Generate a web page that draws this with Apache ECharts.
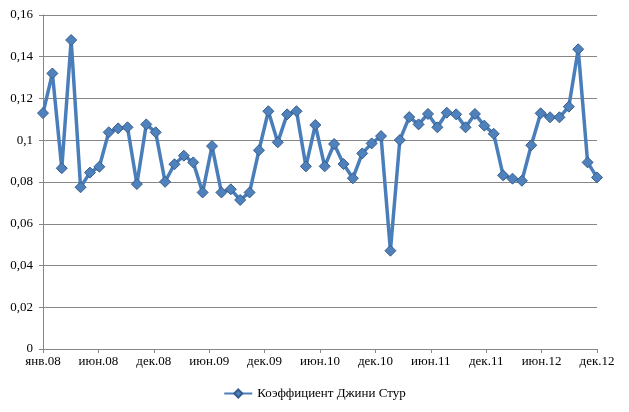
<!DOCTYPE html>
<html>
<head>
<meta charset="utf-8">
<script src="https://cdn.jsdelivr.net/npm/echarts@6/dist/echarts.min.js"></script>
<style>
  html, body { margin: 0; padding: 0; background: #fff; }
  #chart { width: 629px; height: 412px; }
</style>
</head>
<body>
<div id="chart"></div>
<script>
// месяцы янв.08 .. дек.12 (60 точек)
var months = [
  'янв.08','фев.08','мар.08','апр.08','май.08','июн.08','июл.08','авг.08','сен.08','окт.08','ноя.08','дек.08',
  'янв.09','фев.09','мар.09','апр.09','май.09','июн.09','июл.09','авг.09','сен.09','окт.09','ноя.09','дек.09',
  'янв.10','фев.10','мар.10','апр.10','май.10','июн.10','июл.10','авг.10','сен.10','окт.10','ноя.10','дек.10',
  'янв.11','фев.11','мар.11','апр.11','май.11','июн.11','июл.11','авг.11','сен.11','окт.11','ноя.11','дек.11',
  'янв.12','фев.12','мар.12','апр.12','май.12','июн.12','июл.12','авг.12','сен.12','окт.12','ноя.12','дек.12'
];
var gini = [
  0.113, 0.132, 0.0866, 0.148, 0.0775, 0.0845, 0.0873, 0.1038, 0.1057, 0.1062, 0.079, 0.1076,
  0.1038, 0.0801, 0.0885, 0.0926, 0.0894, 0.075, 0.0972, 0.075, 0.0765, 0.0714, 0.075, 0.0952,
  0.1139, 0.099, 0.1124, 0.1139, 0.0875, 0.1073, 0.0875, 0.0982, 0.0886, 0.0818, 0.0937, 0.0985,
  0.102, 0.0471, 0.1001, 0.1111, 0.1076, 0.1126, 0.1062, 0.1132, 0.1124, 0.1062, 0.1126, 0.107,
  0.1031, 0.0832, 0.0816, 0.0806, 0.0976, 0.1129, 0.111, 0.111, 0.1161, 0.1436, 0.0894, 0.0822
];
var tickLabels = ['янв.08','июн.08','дек.08','июн.09','дек.09','июн.10','дек.10','июн.11','дек.11','июн.12','дек.12'];
var seriesName = 'Коэффициент Джини Стур';

var step = (months.length - 1) / (tickLabels.length - 1); // 5.9
var points = [];
for (var i = 0; i < gini.length; i++) {
  points.push([i, gini[i]]);
}

var font = 'Liberation Serif';
var gridColor = '#868686';

var myChart = echarts.init(document.getElementById('chart'));
var option = {
  animation: false,
  textStyle: { fontFamily: font },
  grid: { left: 43, right: 32, top: 15, bottom: 63, containLabel: false },
  xAxis: {
    type: 'value',
    min: 0,
    max: months.length - 1,
    interval: step,
    axisLine: { show: true, lineStyle: { color: gridColor, width: 1 } },
    axisTick: { show: true, length: 4, lineStyle: { color: gridColor } },
    splitLine: { show: false },
    axisLabel: {
      color: '#000', fontFamily: font, fontSize: 13, margin: 6,
      showMinLabel: true, showMaxLabel: true,
      formatter: function (v) { return tickLabels[Math.round(v / step)] || ''; }
    }
  },
  yAxis: {
    type: 'value',
    min: 0,
    max: 0.16,
    interval: 0.02,
    axisLine: { show: true, lineStyle: { color: gridColor, width: 1 } },
    axisTick: { show: true, length: 4, lineStyle: { color: gridColor } },
    splitLine: { show: true, lineStyle: { color: gridColor, width: 1 } },
    axisLabel: {
      color: '#000', fontFamily: font, fontSize: 13, margin: 10,
      // как в Excel: 0,1 без лишнего нуля
      formatter: function (v) { return String(+v.toFixed(2)).replace('.', ','); }
    }
  },
  legend: {
    bottom: 7,
    left: 'center',
    itemWidth: 28,
    itemHeight: 10,
    itemGap: 5,
    textStyle: { color: '#000', fontFamily: font, fontSize: 13 },
    data: [seriesName]
  },
  series: [{
    name: seriesName,
    type: 'line',
    data: points,
    symbol: 'diamond',
    symbolSize: 11,
    lineStyle: { color: '#4A7EBB', width: 3.5 },
    itemStyle: { color: '#4F81BD', borderColor: '#385D8A', borderWidth: 1 }
  }]
};
myChart.setOption(option);
window.onresize = myChart.resize;
</script>
</body>
</html>
